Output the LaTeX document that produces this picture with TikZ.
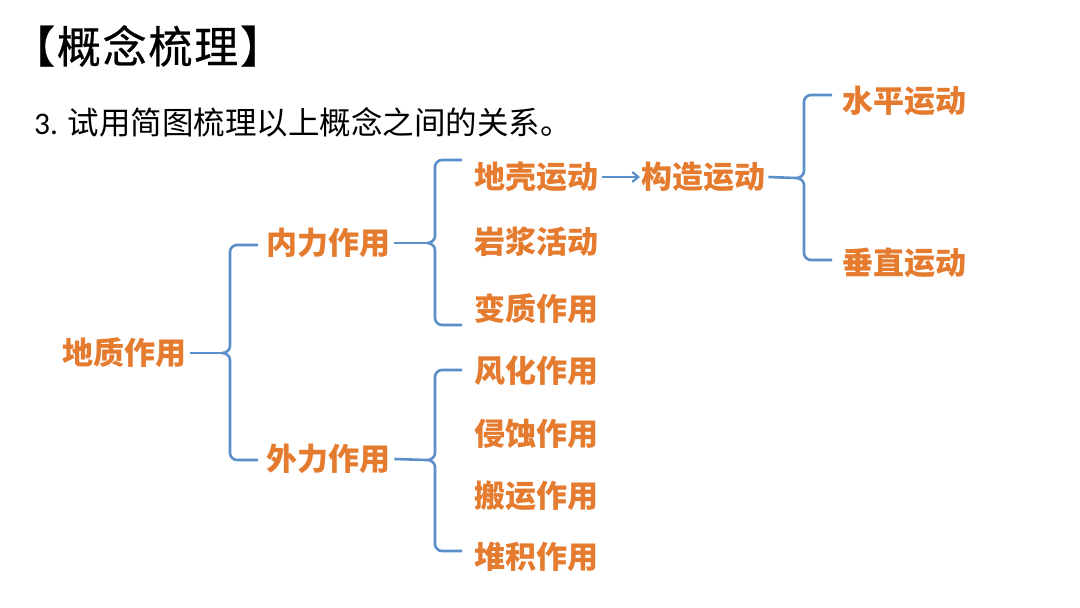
\documentclass[tikz,border=0pt]{standalone}
\usepackage{fontspec}
\newfontfamily\cjk{Noto Sans CJK SC}
\newfontfamily\cjkt[FakeBold=0.6,LetterSpace=4]{Noto Sans CJK SC}
\newfontfamily\lat{Carlito}
\usetikzlibrary{arrows.meta}
\definecolor{orangeA}{HTML}{E57B2E}
\definecolor{blueA}{HTML}{5B8FC9}
\tikzset{
  lbl/.style={font=\cjk\bfseries\fontsize{31}{31}\selectfont, text=orangeA, inner sep=0pt, anchor=west},
  bracepath/.style={draw=blueA, line width=2.6pt, line join=round},
}
\newcommand\drawbrace[6]{% #1 tip name, #2 vx, #3 top, #4 mid, #5 bot, #6 arm x
  \draw[bracepath] (#6,#3) -- (#2+7,#3) to[out=180,in=90] (#2,#3+7) -- (#2,#4-7)
    to[out=-90,in=0] (#1) to[out=0,in=90] (#2,#4+7) -- (#2,#5-7)
    to[out=-90,in=180] (#2+7,#5) -- (#6,#5);
}
\begin{document}
\begin{tikzpicture}[x=1pt,y=-1pt]
\useasboundingbox (0,0) rectangle (1080,608);
\node[anchor=west, inner sep=0pt, font=\cjkt\fontsize{44}{44}\selectfont] (title) at (11,46) {【概念梳理】};
\node[anchor=west, inner sep=0pt, font=\cjk\fontsize{31.5}{31.5}\selectfont] (sub) at (34,122) {{\lat 3.} 试用简图梳理以上概念之间的关系。};

\node[lbl] (dz) at (62,353) {地质作用};
\node[lbl] (nl) at (266,243) {内力作用};
\node[lbl] (wl) at (266,459) {外力作用};
\node[lbl] (dq) at (474,177) {地壳运动};
\node[lbl] (yj) at (474,242) {岩浆活动};
\node[lbl] (bz) at (474,309) {变质作用};
\node[lbl] (fh) at (474,371) {风化作用};
\node[lbl] (qs) at (474,434) {侵蚀作用};
\node[lbl] (by) at (474,496) {搬运作用};
\node[lbl] (dj) at (474,557) {堆积作用};
\node[lbl] (gz) at (641,177) {构造运动};
\node[lbl] (sp) at (842,101) {水平运动};
\node[lbl] (cz) at (842,263) {垂直运动};

\coordinate (t1) at (222,353);
\coordinate (t2) at (427,243);
\coordinate (t3) at (427,460);
\coordinate (t4) at (796,178);

\draw[bracepath] ([xshift=4pt]dz.east) -- (t1);
\drawbrace{t1}{230}{245}{353}{460}{258}
\draw[bracepath] ([xshift=4pt]nl.east) -- (t2);
\drawbrace{t2}{435}{160}{243}{325}{462}
\draw[bracepath] ([xshift=4pt]wl.east) -- (t3);
\drawbrace{t3}{435}{370}{460}{551}{462}
\draw[bracepath] ([xshift=3pt]gz.east) -- (t4);
\drawbrace{t4}{804}{95}{178}{260}{832}

\draw[draw=blueA, line width=2.2pt, -{Straight Barb[length=6pt,width=10pt]}] ([xshift=4pt]dq.east) -- ([xshift=-1pt]gz.west);
\end{tikzpicture}
\end{document}
